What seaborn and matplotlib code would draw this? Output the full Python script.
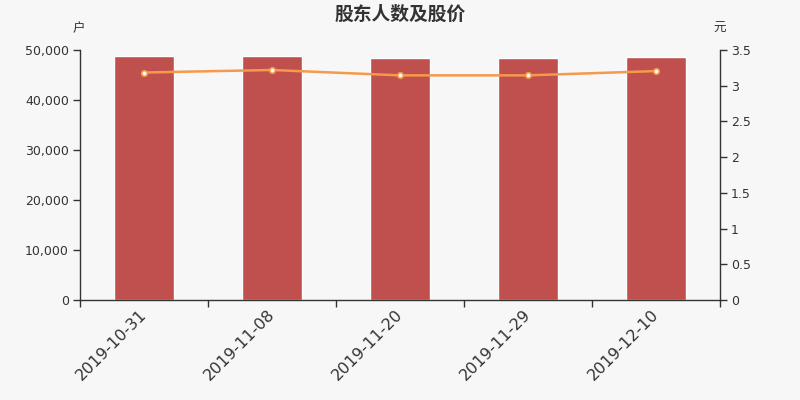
import matplotlib
matplotlib.use("Agg")
import matplotlib.pyplot as plt
import seaborn as sns
import pandas as pd
from matplotlib.ticker import FuncFormatter, FixedLocator

dates = ["2019-10-31", "2019-11-08", "2019-11-20", "2019-11-29", "2019-12-10"]
holders = [48900, 48800, 48400, 48400, 48650]
prices = [3.185, 3.22, 3.145, 3.145, 3.205]

title = "股东人数及股价"
left_unit = "户"
right_unit = "元"

sns.set_theme(style="white")
plt.rcParams['font.family'] = ['DejaVu Sans', 'Noto Sans CJK SC']

bg = "#f7f7f7"
txt = "#333333"
bar_color = "#c0504d"
line_color = "#f5994a"

df = pd.DataFrame({"date": dates, "holders": holders, "price": prices})
df["pos"] = range(len(df))

fig = plt.figure(figsize=(8, 4), dpi=100, facecolor=bg)
ax = fig.add_axes([0.1, 0.25, 0.8, 0.625])
ax.set_facecolor(bg)

sns.barplot(data=df, x="date", y="holders", color=bar_color, width=0.47,
            saturation=1, ax=ax, zorder=2)
ax.set_xlim(-0.5, len(dates) - 0.5)
ax.set_ylim(0, 50000)
ax.set_yticks([0, 10000, 20000, 30000, 40000, 50000])
ax.yaxis.set_major_formatter(FuncFormatter(lambda v, p: f"{int(v):,}"))
ax.set_xlabel("")
ax.set_ylabel("")

ax.set_xticks(range(len(dates)))
ax.set_xticklabels(dates, rotation=45, ha="right", va="center",
                   rotation_mode="anchor", fontsize=11.5, color=txt)
ax.tick_params(axis="x", which="major", length=0, pad=9)
ax.xaxis.set_minor_locator(FixedLocator([i - 0.5 for i in range(len(dates) + 1)]))
ax.tick_params(axis="x", which="minor", length=5, width=1, color=txt, bottom=True)
ax.tick_params(axis="y", length=5, width=1, color=txt, labelsize=9,
               labelcolor=txt, left=True, pad=3)

for s in ["top", "right"]:
    ax.spines[s].set_visible(False)
for s in ["left", "bottom"]:
    ax.spines[s].set_color(txt)
    ax.spines[s].set_linewidth(1)

ax2 = ax.twinx()
sns.lineplot(data=df, x="pos", y="price", ax=ax2, color=line_color,
             linewidth=1.8, marker="o", markersize=4,
             markerfacecolor="white", markeredgecolor=line_color,
             markeredgewidth=1.2, zorder=3)
ax2.set_ylim(0, 3.5)
ax2.set_yticks([0, 0.5, 1, 1.5, 2, 2.5, 3, 3.5])
ax2.yaxis.set_major_formatter(FuncFormatter(lambda v, p: f"{v:g}"))
ax2.set_xlim(-0.5, len(dates) - 0.5)
ax2.set_xlabel("")
ax2.set_ylabel("")
ax2.tick_params(axis="y", length=5, width=1, color=txt, labelsize=9,
                labelcolor=txt, right=True, pad=3)
for s in ["top", "left", "bottom"]:
    ax2.spines[s].set_visible(False)
ax2.spines["right"].set_color(txt)
ax2.spines["right"].set_linewidth(1)
ax2.grid(False)
ax.grid(False)

fig.text(0.5, 1 - 14 / 400, title, ha="center", va="center", fontsize=13.5,
         fontweight="bold", color=txt, family=['Noto Sans CJK SC', 'DejaVu Sans'])
fig.text(79 / 800, 1 - 28.5 / 400, left_unit, ha="center", va="center", fontsize=9,
         color=txt, family=['Noto Sans CJK SC', 'DejaVu Sans'])
fig.text(719.5 / 800, 1 - 28.5 / 400, right_unit, ha="center", va="center", fontsize=9,
         color=txt, family=['Noto Sans CJK SC', 'DejaVu Sans'])

fig.savefig("out.png", dpi=100, facecolor=bg)
